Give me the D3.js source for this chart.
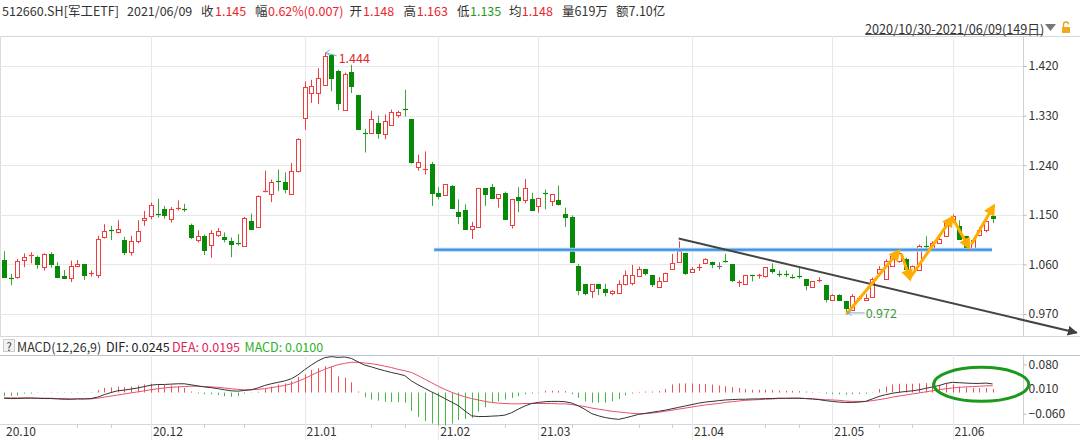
<!DOCTYPE html>
<html><head><meta charset="utf-8">
<script src="https://cdn.jsdelivr.net/npm/d3@7"></script>
<style>
body{margin:0;background:#fff;}
svg{display:block;}
text{font-family:"Noto Sans CJK SC","Noto Sans",sans-serif;}
</style>
</head><body>
<svg id="c" width="1080" height="440"></svg>
<script>
// ---------------- DATA ----------------
const opens  = [1.068,1.036,1.037,1.068,1.075,1.074,1.056,1.079,1.058,1.039,1.035,1.057,1.060,1.042,1.040,1.109,1.122,1.118,1.104,1.083,
1.103,1.140,1.148,1.152,1.161,1.143,1.162,1.161,1.132,1.104,1.112,1.096,1.113,1.110,1.102,1.099,1.093,1.139,1.127,1.191,
1.187,1.211,1.209,1.188,1.229,1.325,1.371,1.371,1.386,1.440,1.411,1.340,1.410,1.368,1.298,1.299,1.316,1.297,1.313,1.331,
1.342,1.323,1.236,1.232,1.242,1.190,1.186,1.203,1.155,1.159,1.125,1.127,1.198,1.201,1.180,1.189,1.131,1.183,1.177,1.178,
1.166,1.190,1.175,1.176,1.151,1.146,1.057,1.024,1.011,1.024,1.016,1.009,1.008,1.024,1.027,1.039,1.052,1.040,1.019,1.030,
1.052,1.064,1.081,1.047,1.055,1.062,1.064,1.058,1.067,1.060,1.026,1.024,1.040,1.040,1.039,1.052,1.042,1.042,1.038,1.039,
1.033,1.019,1.031,1.023,0.996,1.004,0.994,0.978,0.998,0.995,1.001,1.045,1.034,1.058,1.066,1.069,1.046,1.050,1.094,1.090,
1.099,1.111,1.138,1.129,1.111,1.086,1.113,1.122,1.148];
const highs  = [1.084,1.043,1.070,1.080,1.082,1.076,1.080,1.082,1.064,1.050,1.067,1.068,1.060,1.049,1.112,1.133,1.130,1.140,1.110,1.112,
1.140,1.157,1.172,1.179,1.166,1.164,1.176,1.170,1.134,1.122,1.114,1.122,1.126,1.118,1.109,1.115,1.146,1.152,1.185,1.230,
1.214,1.232,1.227,1.244,1.289,1.392,1.395,1.416,1.444,1.441,1.413,1.408,1.422,1.368,1.306,1.339,1.330,1.332,1.341,1.339,
1.377,1.323,1.259,1.265,1.246,1.200,1.206,1.204,1.178,1.169,1.137,1.199,1.198,1.206,1.187,1.192,1.179,1.200,1.215,1.190,
1.181,1.196,1.187,1.203,1.163,1.149,1.061,1.024,1.024,1.024,1.025,1.013,1.031,1.049,1.059,1.056,1.052,1.041,1.037,1.045,
1.079,1.102,1.081,1.055,1.061,1.071,1.065,1.064,1.079,1.060,1.031,1.041,1.041,1.043,1.055,1.062,1.049,1.049,1.042,1.055,
1.033,1.029,1.037,1.023,1.006,1.006,0.994,1.006,1.002,1.006,1.036,1.057,1.069,1.080,1.087,1.072,1.058,1.096,1.111,1.102,
1.111,1.141,1.151,1.140,1.111,1.105,1.128,1.142,1.163];
const lows   = [1.036,1.022,1.034,1.055,1.062,1.052,1.049,1.054,1.035,1.034,1.028,1.055,1.032,1.038,1.035,1.107,1.104,1.116,1.077,1.076,
1.098,1.130,1.142,1.145,1.143,1.136,1.158,1.155,1.106,1.100,1.077,1.072,1.110,1.100,1.073,1.094,1.093,1.122,1.127,1.191,
1.173,1.193,1.189,1.187,1.227,1.304,1.353,1.351,1.384,1.374,1.340,1.340,1.371,1.305,1.263,1.298,1.288,1.287,1.311,1.326,
1.328,1.243,1.230,1.223,1.166,1.178,1.184,1.163,1.133,1.124,1.106,1.127,1.166,1.180,1.163,1.142,1.125,1.155,1.171,1.157,
1.154,1.160,1.166,1.167,1.128,1.064,1.004,1.004,0.999,1.004,1.002,1.004,1.007,1.022,1.022,1.037,1.040,1.019,1.018,1.030,
1.052,1.063,1.041,1.045,1.048,1.061,1.053,1.051,1.063,1.028,1.019,1.024,1.029,1.034,1.036,1.043,1.037,1.037,1.034,1.034,
1.013,1.019,1.028,0.991,0.995,0.994,0.972,0.976,0.994,0.994,1.000,1.042,1.033,1.057,1.063,1.048,1.045,1.048,1.090,1.088,
1.098,1.110,1.136,1.105,1.090,1.084,1.111,1.118,1.135];
const closes = [1.038,1.035,1.067,1.074,1.077,1.060,1.079,1.061,1.038,1.035,1.057,1.060,1.040,1.045,1.106,1.121,1.120,1.125,1.082,1.103,
1.121,1.145,1.167,1.151,1.149,1.160,1.163,1.160,1.110,1.112,1.086,1.117,1.120,1.106,1.097,1.098,1.144,1.125,1.185,1.193,
1.210,1.210,1.197,1.229,1.287,1.381,1.384,1.398,1.438,1.398,1.353,1.405,1.384,1.306,1.297,1.324,1.298,1.320,1.336,1.337,
1.340,1.245,1.245,1.234,1.190,1.184,1.205,1.163,1.148,1.124,1.129,1.199,1.187,1.180,1.187,1.142,1.179,1.177,1.199,1.159,
1.181,1.189,1.187,1.169,1.146,1.065,1.013,1.009,1.024,1.018,1.010,1.011,1.025,1.040,1.041,1.051,1.044,1.024,1.030,1.045,
1.063,1.085,1.044,1.052,1.056,1.069,1.060,1.058,1.064,1.032,1.028,1.041,1.039,1.041,1.055,1.048,1.041,1.041,1.037,1.038,
1.022,1.029,1.032,0.997,1.005,0.996,0.980,1.003,0.999,0.999,1.034,1.051,1.066,1.075,1.080,1.051,1.058,1.093,1.093,1.099,
1.106,1.138,1.147,1.106,1.092,1.104,1.123,1.138,1.145];

const difValues = [-0.016,-0.017,-0.017,-0.016,-0.016,-0.016,-0.017,-0.017,-0.018,-0.019,-0.019,-0.018,-0.018,-0.017,
-0.013,-0.006,0.000,0.005,0.007,0.010,0.013,0.017,0.021,0.023,0.023,0.024,0.025,0.025,0.022,
0.019,0.016,0.014,0.011,0.008,0.005,0.004,0.006,0.008,0.013,
0.020,0.025,0.029,0.033,0.039,0.050,0.065,0.078,0.090,0.099,0.102,0.100,0.101,0.097,0.087,
0.078,0.073,0.067,0.062,0.057,0.053,0.048,0.033,0.022,0.012,0.002,-0.007,-0.017,-0.027,-0.037,-0.052,-0.066,-0.068,-0.068,-0.067,-0.066,-0.064,-0.057,-0.047,-0.038,-0.031,
-0.028,-0.026,-0.025,-0.025,-0.026,-0.030,-0.038,-0.048,-0.060,-0.066,-0.071,-0.074,-0.076,-0.072,-0.067,
-0.062,-0.059,-0.056,-0.053,-0.050,-0.046,-0.042,-0.038,-0.034,-0.030,-0.027,-0.025,-0.023,-0.021,-0.020,-0.019,-0.019,-0.018,-0.018,-0.017,-0.017,-0.016,-0.016,-0.016,-0.016,-0.017,-0.018,-0.020,
-0.023,-0.025,-0.027,-0.028,-0.028,-0.027,-0.025,-0.018,
-0.011,-0.006,-0.002,0.001,0.003,0.005,0.008,0.012,0.016,0.020,0.026,0.029,0.028,0.027,0.026,0.026,0.027,0.0245];
const deaValues = [-0.015,-0.015,-0.015,-0.015,-0.015,-0.016,-0.016,-0.016,-0.017,-0.017,-0.018,-0.018,-0.018,-0.018,
-0.016,-0.013,-0.010,-0.007,-0.004,-0.001,0.002,0.005,0.008,0.011,0.013,0.015,0.016,0.017,0.018,
0.018,0.017,0.016,0.015,0.013,0.011,0.009,0.008,0.008,0.009,
0.011,0.014,0.017,0.020,0.025,0.032,0.040,0.049,0.058,0.066,0.073,0.079,0.083,0.086,0.086,
0.084,0.082,0.079,0.075,0.071,0.066,0.062,0.057,0.048,0.038,0.028,0.018,0.009,0.001,-0.006,-0.012,-0.017,-0.021,-0.025,-0.028,-0.030,-0.031,-0.032,-0.032,-0.031,-0.031,
-0.031,-0.031,-0.031,-0.032,-0.032,-0.034,-0.037,-0.040,-0.044,-0.047,-0.050,-0.053,-0.055,-0.057,-0.059,
-0.060,-0.060,-0.058,-0.056,-0.053,-0.050,-0.047,-0.044,-0.041,-0.038,-0.035,-0.033,-0.031,-0.028,-0.026,-0.024,-0.022,-0.021,-0.020,-0.019,-0.018,-0.017,-0.017,-0.016,-0.016,-0.017,-0.018,-0.019,
-0.020,-0.021,-0.022,-0.024,-0.025,-0.025,-0.025,-0.023,
-0.020,-0.017,-0.013,-0.010,-0.007,-0.004,-0.001,0.002,0.005,0.008,0.011,0.013,0.015,0.016,0.017,0.018,0.019,0.0195];
const macdValues = [-0.010,-0.010,-0.008,-0.003,-0.003,-0.001,-0.001,-0.001,-0.001,-0.001,-0.001,0.001,0.001,0.001,
0.007,0.013,0.015,0.017,0.015,0.017,0.020,0.023,0.025,0.023,0.022,0.020,0.018,0.013,0.003,
-0.003,-0.005,-0.005,-0.007,-0.010,-0.012,-0.010,-0.003,-0.001,0.002,
0.010,0.017,0.023,0.026,0.032,0.044,0.052,0.064,0.069,0.075,0.074,0.046,0.042,0.029,0.003,
-0.013,-0.020,-0.023,-0.026,-0.027,-0.027,-0.029,-0.052,-0.069,-0.081,-0.088,-0.093,-0.093,-0.088,-0.078,-0.075,-0.072,-0.054,-0.042,-0.029,-0.025,-0.020,-0.015,-0.010,-0.005,-0.003,
0.001,0.005,0.005,0.005,0.004,-0.005,-0.015,-0.025,-0.029,-0.029,-0.029,-0.025,-0.018,-0.008,-0.003,
0.002,0.003,0.003,0.004,0.010,0.023,0.026,0.026,0.026,0.024,0.024,0.023,0.020,0.018,0.015,0.013,0.010,0.008,0.008,0.008,0.007,0.006,0.005,0.005,0.004,0.003,0.002,0.001,
-0.003,-0.004,-0.005,-0.006,-0.005,-0.004,-0.003,-0.001,
0.010,0.017,0.023,0.025,0.025,0.025,0.026,0.027,0.027,0.022,0.025,0.023,0.017,0.015,0.013,0.013,0.013,0.010];

const priceTicks = [1.420,1.330,1.240,1.150,1.060,0.970];
const macdTicks = [0.080,0.010,-0.060];
const monthLabels = ["20.10","20.12","21.01","21.02","21.03","21.04","21.05","21.06"];
const monthStartIdx = [0,22,45,65,80,103,124,142];
const minorTickIdx = [11,16,30,36,55,60,75,85,95,100,114,119,131,136];

const headerParts = [
  ["512660.SH[军工ETF]", 2, "#333"], ["2021/06/09", 127, "#333"],
  ["收", 201, "#333"], ["1.145", 215, "#e8262b"],
  ["幅", 255, "#333"], ["0.62%(0.007)", 268, "#e8262b"],
  ["开", 349.5, "#333"], ["1.148", 363, "#e8262b"],
  ["高", 403.6, "#333"], ["1.163", 416.7, "#e8262b"],
  ["低", 457, "#333"], ["1.135", 470, "#1f9a1f"],
  ["均", 509, "#333"], ["1.148", 521.7, "#e8262b"],
  ["量619万", 562, "#333"], ["额7.10亿", 616, "#333"]
];
const rangeText = "2020/10/30-2021/06/09(149日)";
const macdHeader = [["MACD(12,26,9)",17,"#333"],["DIF: 0.0245",106,"#222"],["DEA: 0.0195",172,"#e0245b"],["MACD: 0.0100",244.5,"#2eb02e"]];

// annotations (in data coordinates: candle index, price)
const supportLevel = {from:64.4, to:147.9, price:1.0865};
const trendLine = {i1:101, p1:1.107, i2:160.6, p2:0.936};
const orangeSegs = [[126.2,0.971,133.9,1.083],[134.4,1.077,135.6,1.035],[135.6,1.035,141.9,1.144],[142.0,1.144,144.4,1.092],[144.9,1.098,148.1,1.165]];
const highLabel = {i:48, p:1.444, text:"1.444"};
const lowLabel = {i:126, p:0.972, text:"0.972"};
const macdEllipse = {i:146.3, v:0.0233, rx:47.5, ry:17};

// ---------------- LAYOUT ----------------
const svg = d3.select("#c");
const W = 1080, plotR = 1023;
const mainTop = 36, mainBot = 336, macdHeadBot = 354.5, macdBot = 424;
const x = d3.scaleLinear().domain([0,148]).range([4,992.6]);
const yP = d3.scaleLinear().domain([0.970,1.420]).range([314,66]);
const yM = d3.scaleLinear().domain([-0.060,0.080]).range([413.7,364.4]);
const cr = v => Math.round(v)+0.5;

const defs = svg.append("defs");
defs.append("marker").attr("id","arrDark").attr("viewBox","0 0 10 10").attr("refX",9).attr("refY",5)
  .attr("markerWidth",5).attr("markerHeight",5).attr("orient","auto").attr("markerUnits","strokeWidth")
  .append("path").attr("d","M0,0 L10,5 L0,10 z").attr("fill","#404040");
defs.append("marker").attr("id","arrOr").attr("viewBox","0 0 10 10").attr("refX",7).attr("refY",5)
  .attr("markerWidth",4).attr("markerHeight",4).attr("orient","auto").attr("markerUnits","strokeWidth")
  .append("path").attr("d","M0,0 L10,5 L0,10 z").attr("fill","#ffae00");

// frames
const frame = svg.append("g");
[mainTop, mainBot, macdBot].forEach(y=>frame.append("line").attr("x1",0).attr("x2",W).attr("y1",cr(y)).attr("y2",cr(y)).attr("stroke","#d4d8dc"));
frame.append("line").attr("x1",0).attr("x2",W).attr("y1",cr(macdHeadBot)).attr("y2",cr(macdHeadBot)).attr("stroke","#b8c4d0");
frame.append("line").attr("x1",0.5).attr("x2",0.5).attr("y1",mainTop).attr("y2",mainBot).attr("stroke","#dcdcdc");
frame.append("line").attr("x1",plotR+0.5).attr("x2",plotR+0.5).attr("y1",mainTop).attr("y2",mainBot).attr("stroke","#d0d0d0");
frame.append("line").attr("x1",plotR+0.5).attr("x2",plotR+0.5).attr("y1",macdHeadBot).attr("y2",macdBot).attr("stroke","#d0d0d0");

// grid
const grid = svg.append("g").attr("stroke","#e8e8e8");
priceTicks.forEach(t=>grid.append("line").attr("x1",0).attr("x2",plotR).attr("y1",cr(yP(t))).attr("y2",cr(yP(t))));
monthStartIdx.slice(1).forEach(i=>{
  grid.append("line").attr("x1",cr(x(i))).attr("x2",cr(x(i))).attr("y1",mainTop).attr("y2",mainBot);
  grid.append("line").attr("x1",cr(x(i))).attr("x2",cr(x(i))).attr("y1",macdHeadBot).attr("y2",440);
});

// price axis
const pAxis = svg.append("g").attr("transform",`translate(${plotR+0.5},0)`)
  .call(d3.axisRight(yP).tickValues(priceTicks).tickFormat(d3.format(".3f")).tickSize(3).tickPadding(2));
pAxis.select(".domain").remove();
pAxis.selectAll("line").attr("stroke","#bbb");
pAxis.selectAll("text").attr("font-size",12).attr("fill","#333").attr("font-family","'Noto Sans',sans-serif");

// macd axis
const mAxis = svg.append("g").attr("transform",`translate(${plotR+0.5},0)`)
  .call(d3.axisRight(yM).tickValues(macdTicks).tickFormat(d3.format(".3f")).tickSize(3).tickPadding(2));
mAxis.select(".domain").remove();
mAxis.selectAll("line").attr("stroke","#bbb");
mAxis.selectAll("text").attr("font-size",12).attr("fill","#333").attr("font-family","'Noto Sans',sans-serif");

// bottom axis
const bAxis = svg.append("g").attr("transform",`translate(0,${macdBot})`)
  .call(d3.axisBottom(x).tickValues(monthStartIdx).tickFormat((d,i)=>monthLabels[i]).tickSize(0).tickPadding(3));
bAxis.select(".domain").remove();
bAxis.selectAll("text").attr("font-size",12).attr("fill","#333").attr("text-anchor","start").attr("dx",1.5)
  .attr("font-family","'Noto Sans',sans-serif");
const minor = svg.append("g").attr("stroke","#ccc");
minorTickIdx.forEach(i=>minor.append("line").attr("x1",cr(x(i))).attr("x2",cr(x(i))).attr("y1",macdBot).attr("y2",macdBot+4));

// candles
const UP="#f03c3c", DN="#078a07", DNW="#3aa63a", FLAT="#707070";
const cg = svg.append("g");
d3.range(opens.length).forEach(i=>{
  const o=opens[i],h=highs[i],l=lows[i],c=closes[i];
  const cx = cr(x(i));
  const col = c>o?UP:(c<o?DN:FLAT);
  const wcol = col===DN?DNW:col;
  cg.append("line").attr("x1",cx).attr("x2",cx).attr("y1",yP(h)).attr("y2",yP(l)).attr("stroke",wcol).attr("stroke-width",1);
  const t = Math.round(yP(Math.max(o,c))), b = Math.round(yP(Math.min(o,c)));
  if (b-t < 1.5) {
    cg.append("line").attr("x1",cx-2.5).attr("x2",cx+2.5).attr("y1",t+0.5).attr("y2",t+0.5).attr("stroke",col).attr("stroke-width",1.2);
  } else {
    cg.append("rect").attr("x",cx-2).attr("width",4).attr("y",t+0.5).attr("height",b-t)
      .attr("fill",col===UP?"#fff":col).attr("stroke",col).attr("stroke-width",1);
  }
});

// support line
const ann = svg.append("g");
ann.append("line").attr("x1",x(supportLevel.from)).attr("x2",x(supportLevel.to))
  .attr("y1",yP(supportLevel.price)).attr("y2",yP(supportLevel.price)).attr("stroke","#a9d2f5").attr("stroke-width",4);
ann.append("line").attr("x1",x(supportLevel.from)).attr("x2",x(supportLevel.to))
  .attr("y1",yP(supportLevel.price)).attr("y2",yP(supportLevel.price)).attr("stroke","#3d92e3").attr("stroke-width",2);
// trend line
ann.append("line").attr("x1",x(trendLine.i1)).attr("y1",yP(trendLine.p1)).attr("x2",x(trendLine.i2)).attr("y2",yP(trendLine.p2))
  .attr("stroke","#444").attr("stroke-width",2).attr("marker-end","url(#arrDark)");
// orange arrows
orangeSegs.forEach(s=>ann.append("line").attr("x1",x(s[0])).attr("y1",yP(s[1])).attr("x2",x(s[2])).attr("y2",yP(s[3]))
  .attr("stroke","#ffae00").attr("stroke-width",3).attr("stroke-linecap","round").attr("marker-end","url(#arrOr)"));

// high / low labels
const hx = x(highLabel.i), hy = yP(highLabel.p);
ann.append("line").attr("x1",hx+12).attr("y1",hy+3).attr("x2",hx+1).attr("y2",hy).attr("stroke","#7fa8cc").attr("stroke-width",1);
ann.append("path").attr("d",`M${hx+1},${hy} l4,-2.5 M${hx+1},${hy} l4,2.5`).attr("stroke","#7fa8cc").attr("fill","none");
ann.append("text").attr("x",hx+14).attr("y",hy+5).attr("dominant-baseline","central").attr("font-size",12.5)
  .attr("fill","#e02828").text(highLabel.text).attr("font-family","'Noto Sans',sans-serif");
const lx = x(lowLabel.i), ly = yP(lowLabel.p);
ann.append("line").attr("x1",lx+2).attr("y1",ly).attr("x2",lx+19).attr("y2",ly).attr("stroke","#7fa8cc").attr("stroke-width",1);
ann.append("path").attr("d",`M${lx+2},${ly} l4,-2.5 M${lx+2},${ly} l4,2.5`).attr("stroke","#7fa8cc").attr("fill","none");
ann.append("text").attr("x",lx+20).attr("y",ly).attr("dominant-baseline","central").attr("font-size",12.5)
  .attr("fill","#3a9a3a").text(lowLabel.text).attr("font-family","'Noto Sans',sans-serif");

// MACD
const mg = svg.append("g");
macdValues.forEach((v,i)=>{
  mg.append("line").attr("x1",cr(x(i))).attr("x2",cr(x(i))).attr("y1",yM(0)).attr("y2",yM(v)===yM(0)?yM(0)-1:yM(v))
    .attr("stroke",v>=0?"#f05050":"#45b845").attr("stroke-width",1);
});
const ln = d3.line().x((d,i)=>x(i)).y(d=>yM(d));
mg.append("path").datum(deaValues).attr("d",ln).attr("fill","none").attr("stroke","#e8506e").attr("stroke-width",1);
mg.append("path").datum(difValues).attr("d",ln).attr("fill","none").attr("stroke","#333").attr("stroke-width",1);
mg.append("ellipse").attr("cx",x(macdEllipse.i)).attr("cy",yM(macdEllipse.v)).attr("rx",macdEllipse.rx).attr("ry",macdEllipse.ry)
  .attr("fill","none").attr("stroke","#1a9a1a").attr("stroke-width",3);

// header texts
const hd = svg.append("g").attr("font-size",12.5);
headerParts.forEach(p=>hd.append("text").attr("x",p[1]).attr("y",10).attr("dominant-baseline","central").attr("fill",p[2]).text(p[0]));
hd.append("text").attr("x",865).attr("y",28).attr("dominant-baseline","central").attr("fill","#333").attr("font-size",12.7).text(rangeText);
hd.append("line").attr("x1",865).attr("x2",1043).attr("y1",34.5).attr("y2",34.5).attr("stroke","#555");
hd.append("path").attr("d","M1045,24 L1056,24 L1050.5,31 z").attr("fill","#777");
hd.append("path").attr("d","M1063.5,27 v-2.5 a2.5,2.5 0 0 1 5,0").attr("fill","none").attr("stroke","#e8a020").attr("stroke-width",1.3);
hd.append("rect").attr("x",1062).attr("y",27).attr("width",8).attr("height",6).attr("fill","#f0a820");

// MACD header
svg.append("rect").attr("x",3.5).attr("y",339.5).attr("width",11).attr("height",12).attr("fill","#f2f2f2").attr("stroke","#ccc");
svg.append("text").attr("x",9).attr("y",346).attr("text-anchor","middle").attr("dominant-baseline","central").attr("font-size",11).attr("fill","#333").text("?");
macdHeader.forEach(p=>svg.append("text").attr("x",p[1]).attr("y",346).attr("dominant-baseline","central").attr("font-size",12.5).attr("fill",p[2]).text(p[0]));
</script>
</body></html>
